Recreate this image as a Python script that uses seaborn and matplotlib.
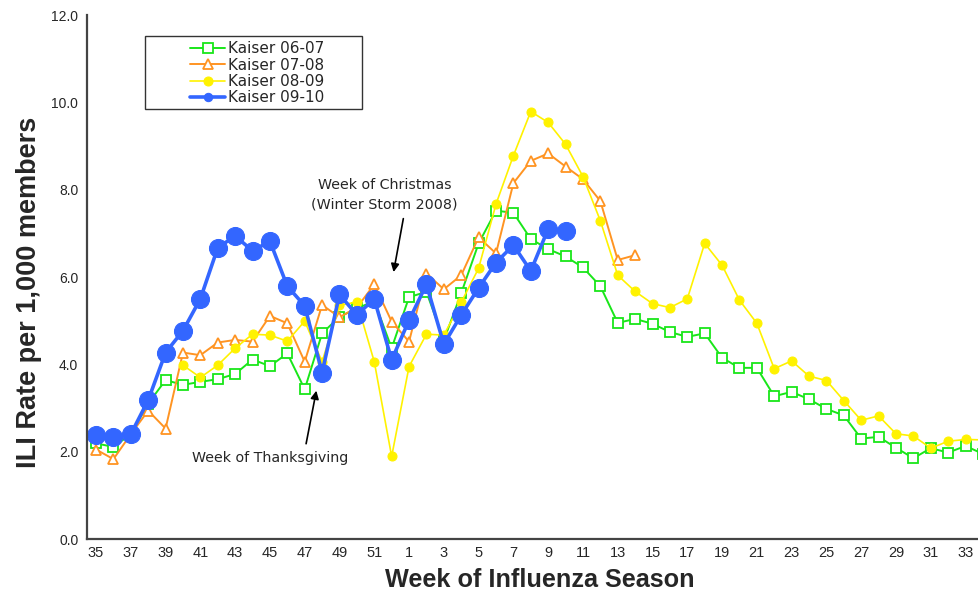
import numpy as np
import pandas as pd
import matplotlib
matplotlib.use('Agg')
import matplotlib.pyplot as plt
from matplotlib.patches import Rectangle
import seaborn as sns

nan = np.nan

# weeks 35..52 then 1..34
weeks = list(range(35, 53)) + list(range(1, 35))

kaiser_0607 = [2.19, 2.11, 2.40, 3.10, 3.64, 3.53, 3.60, 3.66, 3.78, 4.11, 3.96, 4.25, 3.43, 4.71,
               5.09, 5.28, 5.45, 4.37, 5.54, 5.66, 4.55, 5.63, 6.77, 7.52, 7.47, 6.87, 6.64, 6.47,
               6.22, 5.79, 4.95, 5.04, 4.93, 4.74, 4.63, 4.71, 4.15, 3.92, 3.92, 3.27, 3.37, 3.20,
               2.98, 2.83, 2.30, 2.34, 2.09, 1.85, 2.08, 1.98, 2.13, 1.95]
kaiser_0708 = [2.05, 1.83, 2.40, 2.94, 2.53, 4.27, 4.21, 4.50, 4.56, 4.52, 5.11, 4.94, 4.06, 5.36,
               5.08, 5.30, 5.83, 4.98, 4.52, 6.08, 5.72, 6.04, 6.91, 6.54, 8.15, 8.66, 8.83, 8.53,
               8.24, 7.74, 6.39, 6.50] + [nan] * 20
kaiser_0809 = [nan] * 5 + [3.98, 3.70, 3.98, 4.37, 4.69, 4.67, 4.53, 4.99, 4.06,
               5.35, 5.43, 4.06, 1.89, 3.95, 4.69, 4.67, 5.42, 6.20, 7.67, 8.78, 9.79, 9.54, 9.04,
               8.30, 7.29, 6.04, 5.67, 5.39, 5.30, 5.50, 6.77, 6.27, 5.47, 4.94, 3.90, 4.08, 3.73,
               3.63, 3.17, 2.72, 2.82, 2.41, 2.36, 2.08, 2.24, 2.28, 2.27]
kaiser_0910 = [2.38, 2.33, 2.40, 3.18, 4.27, 4.77, 5.50, 6.67, 6.94, 6.60, 6.82, 5.79, 5.34, 3.81,
               5.60, 5.13, 5.50, 4.10, 5.01, 5.83, 4.46, 5.13, 5.75, 6.33, 6.73, 6.14, 7.10, 7.06] + [nan] * 24

df = pd.DataFrame({
    'pos': np.arange(len(weeks)),
    'week': weeks,
    'Kaiser 06-07': kaiser_0607,
    'Kaiser 07-08': kaiser_0708,
    'Kaiser 08-09': kaiser_0809,
    'Kaiser 09-10': kaiser_0910,
})

sns.set_style('white')
plt.rcParams['font.family'] = ['Liberation Sans', 'DejaVu Sans']
narrow = ['Liberation Sans Narrow', 'Liberation Sans', 'DejaVu Sans']
wide = ['DejaVu Sans']

fig = plt.figure(figsize=(9.79, 5.96), dpi=100)
ax = fig.add_axes([0.0892, 0.0956, 0.9237, 0.8792])

styles = {
    'Kaiser 06-07': dict(color='#19E619', marker='s', markersize=6.5, markerfacecolor='white',
                         markeredgecolor='#19E619', markeredgewidth=1.3, linewidth=1.4),
    'Kaiser 07-08': dict(color='#FF9422', marker='^', markersize=7, markerfacecolor='white',
                         markeredgecolor='#FF9422', markeredgewidth=1.3, linewidth=1.4),
    'Kaiser 08-09': dict(color='#FFF200', marker='o', markersize=6.5, markerfacecolor='#FFF200',
                         markeredgecolor='#FFF200', linewidth=1.2),
    'Kaiser 09-10': dict(color='#3366FF', marker='o', markersize=13, markerfacecolor='#3366FF',
                         markeredgecolor='#3366FF', linewidth=2.6),
}

for name, st in styles.items():
    sub = df[['pos', name]].dropna()
    sns.lineplot(data=sub, x='pos', y=name, ax=ax, label=name, clip_on=False, **st)

ax.set_xlim(-0.5, 51.5)
ax.set_ylim(0, 12)
ax.set_yticks(np.arange(0, 12.1, 2))
ax.set_yticklabels([f'{v:.1f}' for v in np.arange(0, 12.1, 2)], fontsize=10)
ax.set_xticks(np.arange(0, 52, 2))
ax.set_xticklabels([str(w) for w in weeks[::2]], fontsize=10.5, family=narrow)
ax.set_xticks(np.arange(-0.5, 52, 1), minor=True)
ax.tick_params(axis='x', which='major', length=0, pad=5)
ax.tick_params(axis='x', which='minor', direction='inout', length=7, width=0.9, color='#333333')
ax.tick_params(axis='y', direction='inout', length=7, width=0.9, color='#333333', pad=3)

for s in ['top', 'right']:
    ax.spines[s].set_visible(False)
for s in ['left', 'bottom']:
    ax.spines[s].set_color('#444444')
    ax.spines[s].set_linewidth(1.6)

ax.set_xlabel('Week of Influenza Season', fontsize=18.2, fontweight='bold', family=narrow)
ax.set_ylabel('ILI Rate per 1,000 members', fontsize=19.5, fontweight='bold')
ax.xaxis.set_label_coords(0.5007, -0.056)
ax.yaxis.set_label_coords(-0.05, 0.471)

# annotations
ax.text(16.6, 7.88, 'Week of Christmas\n(Winter Storm 2008)', ha='center', va='center',
        fontsize=10.3, linespacing=1.45, family=wide)
ax.annotate('', xy=(17.08, 6.05), xytext=(17.7, 7.40),
            arrowprops=dict(arrowstyle='-|>', color='black', lw=1.2, mutation_scale=12))
ax.text(10.0, 1.85, 'Week of Thanksgiving', ha='center', va='center', fontsize=10.3, family=wide)
ax.annotate('', xy=(12.7, 3.46), xytext=(12.05, 2.12),
            arrowprops=dict(arrowstyle='-|>', color='black', lw=1.2, mutation_scale=12))

# legend frame drawn separately (wide Excel-style box)
ax.add_patch(Rectangle((0.0638, 0.8216), 0.240, 0.1384, transform=ax.transAxes,
                       facecolor='white', edgecolor='#333333', linewidth=1.0, zorder=4,
                       clip_on=False))
leg = ax.legend(loc='upper left', bbox_to_anchor=(0.1136, 0.950), borderaxespad=0,
                prop={'family': wide, 'size': 11}, frameon=False,
                handlelength=2.3, handletextpad=0.2, labelspacing=0.09, borderpad=0)
leg.set_zorder(5)
for h in leg.legend_handles:
    if h.get_label() == 'Kaiser 09-10' or h.get_color() == '#3366FF':
        h.set_markersize(6)

fig.savefig('out.png', dpi=100)
